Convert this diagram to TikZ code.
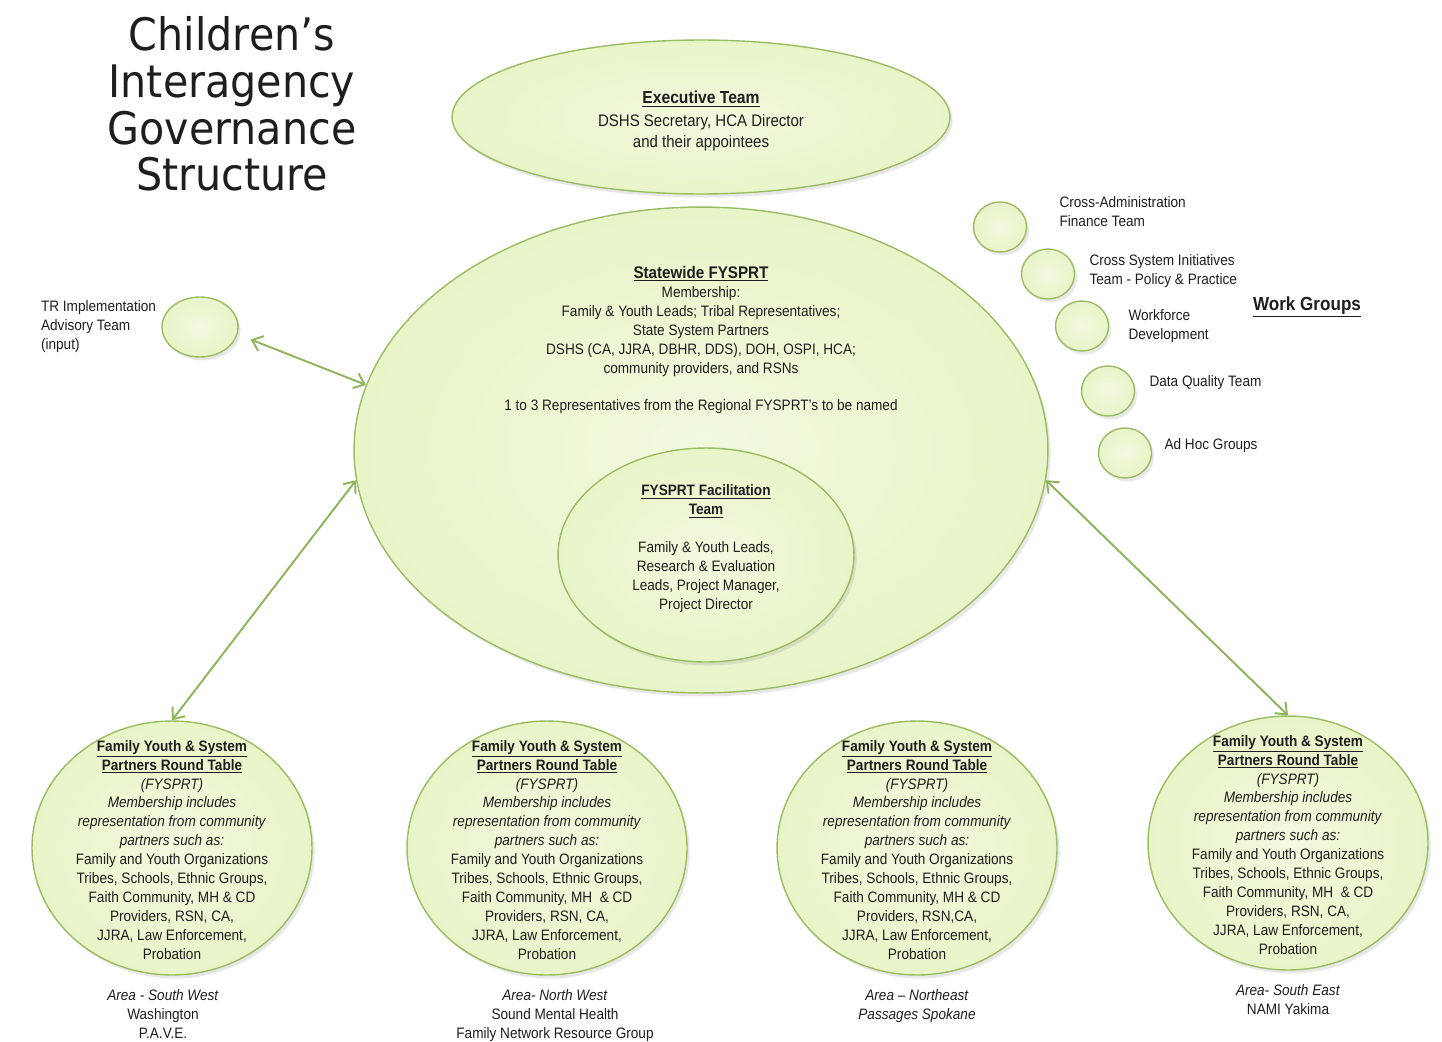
\documentclass[tikz,border=0pt]{standalone}
\usepackage{fontspec}
\setmainfont{Liberation Sans}[FakeStretch=0.9]
\newfontfamily\headfont{DejaVu Sans}[FakeStretch=0.92]
\usepackage{xcolor}
\definecolor{leafrim}{RGB}{155, 188,  98}
\definecolor{leafcore}{RGB}{242, 249, 222}
\definecolor{leafmid}{RGB}{231, 244, 198}
\definecolor{leafedge}{RGB}{205, 231, 148}
\definecolor{leafarrow}{RGB}{142, 180, 92}
\definecolor{inkgrey}{RGB}{ 30,  30,  30}
\usepackage{tikz}
\usetikzlibrary{positioning, shapes.geometric, arrows.meta, shadows}

\pgfdeclareradialshading{leafglow}{\pgfpoint{0bp}{0bp}}{%
  color(0bp)=(leafcore); color(28bp)=(leafmid); color(50bp)=(leafedge)}

% body of each regional round table
\newcommand{\roundtable}[1]{%
  \textbf{\underline{Family Youth \& System}}\\
  \textbf{\underline{Partners Round Table}}\\
  \textit{(FYSPRT)}\\
  \textit{Membership includes}\\
  \textit{representation from community}\\
  \textit{partners such as:}\\
  Family and Youth Organizations\\
  Tribes, Schools, Ethnic Groups,\\
  #1\\
  JJRA, Law Enforcement,\\
  Probation}

\begin{document}
\begin{tikzpicture}[x=0.02cm, y=-0.02cm]

  \tikzstyle{blob} = [
    ellipse, draw=leafrim, line width=0.8pt,
    shade, shading=leafglow,
    drop shadow={opacity=0.18, shadow xshift=1.5pt, shadow yshift=-2pt}
  ]
  \tikzstyle{body} = [
    align=center, inner sep=0pt, text=inkgrey,
    font=\fontsize{8.6}{10.8}\selectfont
  ]
  \tikzstyle{sidetext} = [body, align=left]
  \tikzstyle{roundtable} = [blob, minimum width=5.6cm, minimum height=5.08cm]
  \tikzstyle{wgdot} = [blob, minimum width=1.06cm, minimum height=1.0cm]
  \tikzstyle{link} = [
    {Straight Barb[length=5.5pt, width=9pt]}-{Straight Barb[length=5.5pt, width=9pt]},
    line width=1.1pt, draw=leafarrow
  ]

  \fill[white] (0,0) rectangle (1442,1041);
  \useasboundingbox (0,0) rectangle (1442,1041);

  % title
  \node[align=center, text=inkgrey, font=\headfont\fontsize{25.5}{26.6}\selectfont]
    (title) at (232,104) {Children’s\\Interagency\\Governance\\Structure};

  % executive team
  \node[blob, minimum width=9.96cm, minimum height=3.08cm] (exec) at (701,117) {};
  \node[body, font=\fontsize{9.5}{11.6}\selectfont] (exectext) at (701,121)
    {{\fontsize{9.9}{12}\selectfont\textbf{\underline{Executive Team}}}\\[1.6pt]
     DSHS Secretary, HCA Director\\
     and their appointees};

  % statewide round table with the facilitation team inside
  \node[blob, minimum width=13.88cm, minimum height=9.72cm] (state) at (701,450) {};
  \node[body] (statetext) at (701,340)
    {{\fontsize{9.6}{12}\selectfont\textbf{\underline{Statewide FYSPRT}}}\\
     Membership:\\
     Family \& Youth Leads; Tribal Representatives;\\
     State System Partners\\
     DSHS (CA, JJRA, DBHR, DDS), DOH, OSPI, HCA;\\
     community providers, and RSNs\\[10.8pt]
     1 to 3 Representatives from the Regional FYSPRT's to be named};

  \node[blob, minimum width=5.92cm, minimum height=4.28cm] (facil) at (706,555) {};
  \node[body] (faciltext) at (706,549)
    {\textbf{\underline{FYSPRT Facilitation}}\\
     \textbf{\underline{Team}}\\[10.8pt]
     Family \& Youth Leads,\\
     Research \& Evaluation\\
     Leads, Project Manager,\\
     Project Director};

  % advisory input
  \node[blob, minimum width=1.52cm, minimum height=1.2cm] (tr) at (200,327) {};
  \node[sidetext, left=0.1cm of tr] (trtext)
    {TR Implementation\\Advisory Team\\(input)};

  % work groups
  \node[wgdot] (wg1) at (1000,227) {};
  \node[wgdot] (wg2) at (1048,274) {};
  \node[wgdot] (wg3) at (1082,326) {};
  \node[wgdot] (wg4) at (1108,391) {};
  \node[wgdot] (wg5) at (1125,453) {};

  \node[sidetext, right=0.64cm of wg1, yshift=0.3cm] (wg1text)
    {Cross-Administration\\Finance Team};
  \node[sidetext, right=0.28cm of wg2, yshift=0.05cm] (wg2text)
    {Cross System Initiatives\\Team - Policy \& Practice};
  \node[sidetext, right=0.38cm of wg3] (wg3text)
    {Workforce\\Development};
  \node[sidetext, right=0.28cm of wg4, yshift=0.16cm] (wg4text)
    {Data Quality Team};
  \node[sidetext, right=0.24cm of wg5, yshift=0.14cm] (wg5text)
    {Ad Hoc Groups};

  \node[body, font=\fontsize{10.8}{13}\selectfont] (wgtitle) at (1307,307)
    {\textbf{\underline{Work Groups}}};

  % regional round tables
  \node[roundtable] (rt1) at (172,848) {};
  \node[roundtable] (rt2) at (547,848) {};
  \node[roundtable] (rt3) at (917,848) {};
  \node[roundtable] (rt4) at (1288,843) {};

  \node[body] (rt1text) at ([yshift=-0.04cm]rt1)
    {\roundtable{Faith Community, MH \& CD\\Providers, RSN, CA,}};
  \node[body] (rt2text) at ([yshift=-0.04cm]rt2)
    {\roundtable{Faith Community, MH \ \& CD\\Providers, RSN, CA,}};
  \node[body] (rt3text) at ([yshift=-0.04cm]rt3)
    {\roundtable{Faith Community, MH \& CD\\Providers, RSN,CA,}};
  \node[body] (rt4text) at ([yshift=-0.04cm]rt4)
    {\roundtable{Faith Community, MH \ \& CD\\Providers, RSN, CA,}};

  \node[body, below=0.28cm of rt1, xshift=-0.18cm] (area1)
    {\textit{Area - South West}\\Washington\\P.A.V.E.};
  \node[body, below=0.28cm of rt2, xshift=0.16cm] (area2)
    {\textit{Area- North West}\\Sound Mental Health\\Family Network Resource Group};
  \node[body, below=0.28cm of rt3] (area3)
    {\textit{Area -- Northeast}\\\textit{Passages Spokane}};
  \node[body, below=0.28cm of rt4] (area4)
    {\textit{Area- South East}\\NAMI Yakima};

  % reporting lines
  \draw[link, shorten <=0.28cm] (tr.-11) -- (state.169);
  \draw[link] (rt1.north) -- (state.185);
  \draw[link] (state.-5) -- (rt4.north);

\end{tikzpicture}
\end{document}
